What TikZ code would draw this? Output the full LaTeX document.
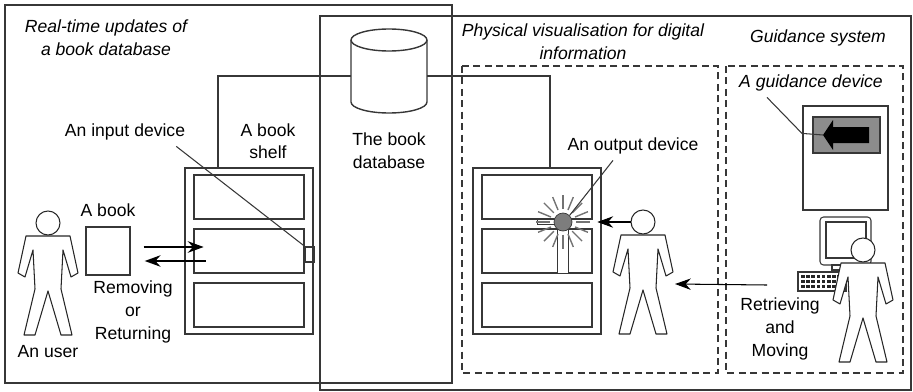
\documentclass[tikz,border=0pt]{standalone}
\usepackage{fontspec}
\setmainfont{Liberation Sans}
\usetikzlibrary{arrows.meta, positioning}
\definecolor{framegray}{RGB}{55, 55, 55}
\definecolor{lampgray}{RGB}{125, 125, 125}
\definecolor{panelgray}{RGB}{140, 140, 140}
\tikzstyle{frame} = [draw=framegray, semithick]
\tikzstyle{zone} = [draw=framegray, thick, dash pattern=on 4pt off 2.5pt]
\tikzstyle{shelf} = [rectangle, draw=framegray, thick, minimum width=2.56cm, minimum height=3.32cm, inner sep=0pt]
\tikzstyle{board} = [rectangle, draw=framegray, thick, minimum width=2.2cm, minimum height=0.88cm, inner sep=0pt]
\tikzstyle{txt} = [font=\fontsize{10}{13}\selectfont, align=center]
\tikzstyle{heading} = [font=\fontsize{10}{13}\selectfont\itshape, align=center]
\tikzstyle{figline} = [draw=black!85, semithick, fill=white, line join=round]
\tikzstyle{pointer} = [draw=framegray, semithick]
\tikzstyle{ray} = [draw=black!55, thick]
\tikzstyle{arrow} = [line width=1.3pt, ->, >={Stealth[length=9pt,width=6.5pt]}]
\tikzstyle{thinarrow} = [semithick, ->, >={Stealth[length=9pt,width=6.5pt]}]
% stick figure, origin at the centre of the head
\tikzset{
  person/.pic={
    \draw[figline] (-22,13) -- (-30,50) -- (-23,54) -- (-15,27) -- (-13,66)
      -- (-24,112) -- (-13,112) -- (0,68) -- (13,112) -- (24,112) -- (13,66)
      -- (15,27) -- (23,54) -- (30,50) -- (22,13) -- cycle;
    \draw[figline] (0,0) circle[radius=0.24cm];
    \coordinate (-head) at (0,0);
    \coordinate (-feet) at (0,112);
    \coordinate (-side) at (32,62);
  }
}

\begin{document}
\begin{tikzpicture}[x=0.02cm, y=-0.02cm]
  \useasboundingbox (0,0) rectangle (913,392);
  % frames
  \draw[frame] (5,5) rectangle (452,383);
  \draw[frame] (320,16) rectangle (911,390);
  \draw[zone] (462,66) rectangle (718,373);
  \draw[zone] (726,66) rectangle (903,373);

  \node[heading] (rtitle) at (106,38) {Real-time updates of\\a book database};
  \node[heading] (ptitle) at (583,42) {Physical visualisation for digital\\information};
  \node[heading] (gtitle) at (818,38) {Guidance system};

  % database
  \node[inner sep=0pt, minimum width=1.52cm, minimum height=1.68cm] (db) at (389,71) {};
  \draw[frame, thick] (351,40) -- (351,102) arc[start angle=180, end angle=360, x radius=0.76cm, y radius=0.22cm] -- (427,40);
  \draw[frame, thick] (389,40) ellipse[x radius=0.76cm, y radius=0.22cm];
  \node[txt, below=0.26cm of db] (dbtext) {The book\\database};

  % shelves
  \foreach \s/\x in {L/249,R/537}{
    \node[shelf] (shelf\s) at (\x,251) {};
    \foreach \k/\dy in {1/-54,2/0,3/54}
      \node[board] (board\s\k) at (\x,{251+\dy}) {};
  }
  \node[txt, above=0.04cm of shelfL, xshift=0.38cm] (shelftext) {A book\\shelf};
  \draw[frame] ([yshift=-0.1cm]db.west) -| ([xshift=-0.62cm]shelfL.north);
  \draw[frame] ([yshift=-0.1cm]db.east) -| ([xshift=0.26cm]shelfR.north);

  % input side
  \node[rectangle, draw=framegray, thick, minimum width=0.18cm, minimum height=0.3cm, inner sep=0pt, anchor=west] (sensor) at ([yshift=-0.07cm]boardL2.east) {};
  \node[txt] (inputtext) at (125,132) {An input device};
  \draw[pointer] ([xshift=-0.3cm]inputtext.south east) -- (sensor.north west);

  \pic (user) at (48,223) {person};
  \node[txt, below=0.08cm of user-feet] (usertext) {An user};
  \node[rectangle, draw=framegray, thick, minimum width=0.88cm, minimum height=0.96cm] (book) at (108,251) {};
  \node[txt, above=0.06cm of book] (booktext) {A book};
  \node[txt] (movetext) at (133,312) {Removing\\or\\Returning};
  \draw[arrow, shorten <=0.26cm] ([yshift=0.08cm]book.east) -- ++(1.46cm,0);
  \draw[arrow, shorten >=0.28cm] ([yshift=-0.2cm,xshift=1.5cm]book.east) -- ([yshift=-0.2cm]book.east);

  % output side
  \draw[framegray, fill=white] (557,226) rectangle (568,273);
  \draw[framegray, fill=white] (537,219) rectangle (556,224);
  \node[circle, draw=framegray, fill=lampgray, minimum size=0.36cm, inner sep=0pt] (lamp) at (563,222) {};
  \foreach \a in {0,22.5,...,337.5}
    \draw[ray] (lamp) ++(\a:0.26cm) -- ++(\a:0.28cm);
  \node[txt] (outtext) at (633,146) {An output device};
  \draw[pointer] ([xshift=-0.4cm]outtext.south) -- (lamp.north east);
  \pic (walker) at (643,222) {person};
  \draw[thinarrow, shorten >=0.5cm] ([xshift=-0.24cm]walker-head) -- (lamp);

  % guidance device
  \node[rectangle, draw=framegray, thick, minimum width=1.7cm, minimum height=2.08cm] (guide) at (845.5,158) {};
  \node[rectangle, draw=framegray, thick, fill=panelgray, minimum width=1.34cm, minimum height=0.72cm] (panel) at (846.5,135) {};
  \fill (869,127) -- (833,127) -- (833,120) -- (823,135) -- (833,150) -- (833,143) -- (869,143) -- cycle;
  \coordinate (tip) at (823,135);
  \node[heading] (guidetext) at (811,83) {A guidance device};
  \draw[pointer] ([xshift=0.68cm]guidetext.south west) -- ++(35,36) -- (tip);

  % computer
  \draw[framegray, semithick, rounded corners=2pt, fill=white] (820,217) rectangle (871,265);
  \draw[framegray, thick] (826,222) rectangle (866,258);
  \draw[framegray, semithick] (832,265) rectangle (858,270);
  \draw[framegray, semithick, fill=white] (798,272) rectangle (846,291);
  \foreach \i in {0,...,7}
    \foreach \j in {0,1,2}
      \fill[black!85] ({801+5.2*\i},{275+5*\j}) rectangle ++(3.6,3.2);
  \pic (clerk) at (863,250) {person};

  \node[txt] (fetchtext) at (780,329) {Retrieving\\and\\Moving};
  \coordinate (fetch) at (767,285);
  \draw[thinarrow] (fetch) -- (walker-side);
\end{tikzpicture}
\end{document}
